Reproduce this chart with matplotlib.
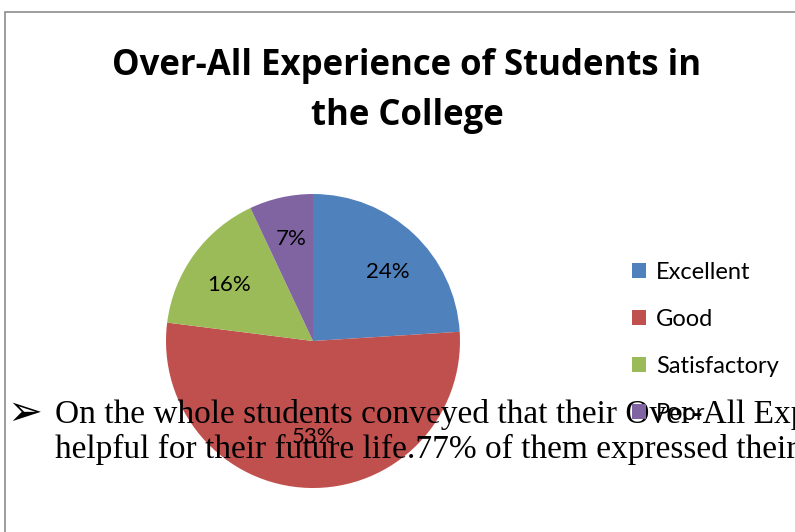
import matplotlib.pyplot as plt
from matplotlib.patches import Rectangle

categories = ['Excellent', 'Good', 'Satisfactory', 'Poor']
shares     = [24, 53, 16, 7]
colors     = ['#4F81BD', '#C0504D', '#9BBB59', '#8064A2']

title_text = 'Over-All Experience of Students in\nthe College'
doc_lines  = ['On the whole students conveyed that their Over-All Experience',
              'helpful for their future life.77% of them expressed their']

fig = plt.figure(figsize=(7.95, 5.32), dpi=100)

# chart frame (runs off the right and bottom edges)
frame = Rectangle((5 / 795, -0.1), 1.2, 1 - 12 / 532 + 0.1, transform=fig.transFigure,
                  fill=False, edgecolor='#8c8c8c', linewidth=1.2, clip_on=False)
fig.patches.append(frame)

fig.text(407 / 795, 1 - 91 / 532, title_text, ha='center', va='center',
         fontsize=25, fontweight='bold', family='Open Sans', linespacing=1.5)

ax = fig.add_axes([0.2088, 0.0827, 0.3698, 0.5526])
wedges, texts, autotexts = ax.pie(shares, colors=colors, startangle=90, counterclock=False,
                                  autopct=lambda p: '%d%%' % round(p), pctdistance=0.70,
                                  wedgeprops=dict(linewidth=0),
                                  textprops=dict(fontsize=16, family='Lato'))
ax.set_xlim(-1, 1)
ax.set_ylim(-1, 1)
ax.set_aspect('equal')

# nudge labels to where the original chart puts them
for t, d in zip(autotexts, [0.71, 0.60, 0.73, 0.76]):
    x, y = t.get_position()
    r = (x ** 2 + y ** 2) ** 0.5
    t.set_position((x / r * d + 0.02, y / r * d - 0.05))

leg = fig.legend(wedges, categories, loc='upper left', bbox_to_anchor=(611 / 795, 1 - 241 / 532),
                 frameon=False, prop=dict(family='Lato', size=17), handlelength=0.6,
                 handleheight=0.6, handletextpad=0.4, labelspacing=1.1)

# text of the surrounding document that sits over the chart
fig.text(7 / 795, 1 - 413 / 532, '\u27a2', ha='left', va='center', fontsize=30,
         family='DejaVu Sans')
fig.text(55 / 795, 1 - 432 / 532, '\n'.join(doc_lines), ha='left', va='center',
         fontsize=24, family='Liberation Serif', linespacing=1.15)

fig.savefig('out.png', dpi=100)
